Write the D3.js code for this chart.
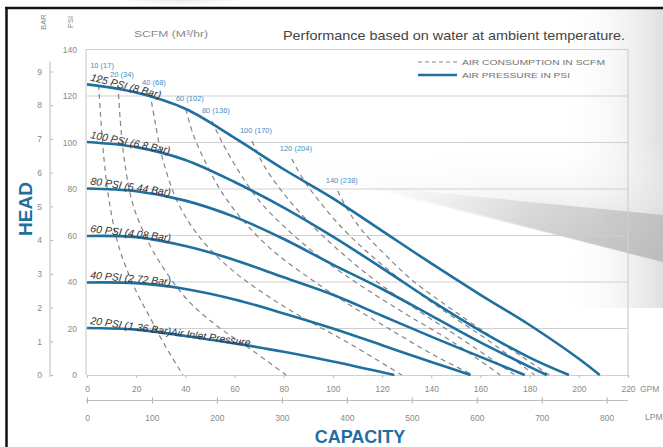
<!DOCTYPE html>
<html><head><meta charset="utf-8">
<script src="https://cdn.jsdelivr.net/npm/d3@7"></script>
<style>
body{margin:0;background:#fff;}
svg{display:block;font-family:"Liberation Sans",Arial,sans-serif;}
</style>
</head><body>
<svg id="c" width="663" height="447"></svg>
<script>
// ---------- DATA ----------
const gpmTicks = [0,20,40,60,80,100,120,140,160,180,200,220];
const lpmTicks = [0,100,200,300,400,500,600,700,800];
const psiTicks = [0,20,40,60,80,100,120,140];
const barTicks = [0,1,2,3,4,5,6,7,8,9];

const pressureNames = [
  "20 PSI (1.36 Bar)Air Inlet Pressure",
  "40 PSI (2.72 Bar)",
  "60 PSI (4.08 Bar)",
  "80 PSI (5.44 Bar)",
  "100 PSI (6.8 Bar)",
  "125 PSI (8 Bar)"
];
const psi20  = [[0,20.2],[20,19.5],[40,16.8],[60,13.6],[80,10],[100,5.8],[125,0]];
const psi40  = [[0,39.8],[20,39.5],[40,37],[60,32.5],[80,26.5],[100,20],[120,12.8],[140,5.6],[156,0]];
const psi60  = [[0,59.8],[20,59.3],[40,55.5],[60,49.5],[80,42],[100,34.5],[120,25.5],[140,16.5],[160,7.8],[178,0]];
const psi80  = [[0,80.2],[20,79],[40,75],[60,68],[80,58.5],[100,47.5],[120,37],[140,25.5],[160,14],[180,3.5],[187,0]];
const psi100 = [[0,100.2],[20,98],[40,92.5],[60,83],[80,72],[100,59.5],[120,46],[140,32],[160,19],[180,7.5],[196,0]];
const psi125 = [[0,125],[20,121.5],[40,114.5],[60,102],[80,88.5],[100,76],[120,62],[140,48],[160,34.5],[180,21.5],[200,7],[208.5,0]];

const scfmNames = ["10 (17)","20 (34)","40 (68)","60 (102)","80 (136)","100 (170)","120 (204)","140 (238)"];
const scfm10  = [[4.5,128.6],[5.5,112],[7,92],[9,75],[13,55],[20,36],[25,26],[31,14],[39,0]];
const scfm20  = [[12.6,124.7],[13.5,110],[15,94],[18.5,74],[25,57],[33,43],[42,31],[53,21],[66,11.5],[81,0]];
const scfm40  = [[25.6,121.3],[27.5,110],[30.5,94],[37,74],[46,59],[58,46],[72,35],[88,24.5],[106,14],[128,0]];
const scfm60  = [[40.2,114.4],[43,104],[47.5,93],[54,80],[63,67],[75,54],[90,42],[107,30],[125,18.5],[142,8],[157,0]];
const scfm80  = [[50.8,109.2],[55,100],[61.5,88],[70,75],[81,63],[95,50.5],[112,38],[130,26],[149,14],[168,0]];
const scfm100 = [[67.1,100.6],[72,90],[80,78],[90,66],[103,53],[118,40],[135,27.5],[153,15],[174,0]];
const scfm120 = [[83.3,92.9],[88,84],[95,74],[104,63],[116,51],[130,39],[146,27],[163,15],[182,0]];
const scfm140 = [[102,79.1],[106,71],[112,62],[121,52],[132,41],[146,30],[161,19],[176,8.5],[188,0]];

const pressureSeries = [psi20,psi40,psi60,psi80,psi100,psi125];
const scfmSeries = [scfm10,scfm20,scfm40,scfm60,scfm80,scfm100,scfm120,scfm140];

// ---------- SETUP ----------
const svg = d3.select("#c");
const W = 663, H = 447;
const x  = d3.scaleLinear().domain([0,220]).range([87,628]);
const xl = d3.scaleLinear().domain([0,220*3.78541]).range([87,628]);
const y  = d3.scaleLinear().domain([0,140]).range([375,49.5]);
const yb = d3.scaleLinear().domain([0,140/14.5038]).range([375,49.5]);

const blue = "#1f6fa0";
const axisGray = "#8a8a8a";
const FONT = "Liberation Sans, Arial, sans-serif";

const defs = svg.append("defs");
const g1 = defs.append("linearGradient").attr("id","sw1").attr("gradientUnits","userSpaceOnUse")
  .attr("x1",0).attr("y1",140).attr("x2",0).attr("y2",262);
g1.append("stop").attr("offset","0").attr("stop-color","#ffffff").attr("stop-opacity",0);
g1.append("stop").attr("offset","0.75").attr("stop-color","#d8d8d8").attr("stop-opacity",0.7);
g1.append("stop").attr("offset","1").attr("stop-color","#c6c6c6").attr("stop-opacity",0.9);
const g2 = defs.append("linearGradient").attr("id","sw2").attr("gradientUnits","userSpaceOnUse")
  .attr("x1",360).attr("y1",0).attr("x2",663).attr("y2",0);
g2.append("stop").attr("offset","0").attr("stop-color","#c8c8c8").attr("stop-opacity",0);
g2.append("stop").attr("offset","1").attr("stop-color","#b8b8b8").attr("stop-opacity",1);
const gm = defs.append("linearGradient").attr("id","swm").attr("gradientUnits","userSpaceOnUse")
  .attr("x1",260).attr("y1",0).attr("x2",520).attr("y2",0);
gm.append("stop").attr("offset","0").attr("stop-color","#fff").attr("stop-opacity",0);
gm.append("stop").attr("offset","1").attr("stop-color","#fff").attr("stop-opacity",1);
defs.append("mask").attr("id","fadeL").append("rect").attr("width",W).attr("height",H).attr("fill","url(#swm)");
const g3 = defs.append("linearGradient").attr("id","rt").attr("x1",0).attr("y1",0).attr("x2",1).attr("y2",0);
g3.append("stop").attr("offset","0").attr("stop-color","#ffffff").attr("stop-opacity",0);
g3.append("stop").attr("offset","1").attr("stop-color","#e0e0e0").attr("stop-opacity",1);
const g4 = defs.append("radialGradient").attr("id","blob");
g4.append("stop").attr("offset","0").attr("stop-color","#c9c9c9");
g4.append("stop").attr("offset","1").attr("stop-color","#ffffff").attr("stop-opacity",0);

// background
svg.append("rect").attr("width",W).attr("height",H).attr("fill","#fff");
svg.append("rect").attr("x",560).attr("y",8).attr("width",103).attr("height",300).attr("fill","url(#rt)");
svg.append("ellipse").attr("cx",180).attr("cy",-6).attr("rx",80).attr("ry",16).attr("fill","url(#blob)");
// swoosh
const sw = svg.append("g").attr("mask","url(#fadeL)");
sw.append("path").attr("d","M260,165 L663,120 L663,262 L360,186 Z").attr("fill","url(#sw1)");
sw.append("path").attr("d","M370,186 L663,215 L663,262 Z").attr("fill","url(#sw2)").attr("opacity",0.8);

// frame (black border)
svg.append("line").attr("x1",6.5).attr("x2",6.5).attr("y1",7).attr("y2",H).attr("stroke","#111").attr("stroke-width",2.5);
svg.append("line").attr("x1",5).attr("x2",W).attr("y1",8).attr("y2",8).attr("stroke","#111").attr("stroke-width",2.5);

// gridlines
svg.append("g").selectAll("line").data(psiTicks.filter(d=>d>0)).join("line")
  .attr("x1",x(0)-1).attr("x2",x(220)).attr("y1",d=>y(d)).attr("y2",d=>y(d))
  .attr("stroke","#cfcfcf").attr("stroke-width",1.2);
svg.append("line").attr("x1",x(0)-1).attr("x2",x(0)-1).attr("y1",y(140)).attr("y2",y(0)).attr("stroke","#cfcfcf").attr("stroke-width",1.2);
svg.append("line").attr("x1",x(220)).attr("x2",x(220)).attr("y1",y(140)).attr("y2",y(0)).attr("stroke","#cfcfcf").attr("stroke-width",1.2);

// bottom GPM axis
const ax = svg.append("g").attr("transform",`translate(0,${y(0)})`)
  .call(d3.axisBottom(x).tickValues(gpmTicks).tickSize(3).tickPadding(8));
ax.select(".domain").attr("stroke","#cfcfcf").attr("stroke-width",1.2);
ax.selectAll(".tick line").attr("stroke","#bbb");
ax.selectAll("text").attr("fill",axisGray).attr("font-size",8.5).attr("font-family",FONT);
svg.append("text").attr("x",x(220)+12).attr("y",392).attr("fill",axisGray).attr("font-size",8.5).text("GPM");

// LPM axis
const al = svg.append("g").attr("transform","translate(0,400.5)")
  .call(d3.axisBottom(xl).tickValues(lpmTicks).tickSize(3).tickPadding(11));
al.select(".domain").remove();
al.append("line").attr("x1",x(0)-1).attr("x2",x(220)).attr("stroke","#bdbdbd").attr("stroke-width",1.2);
al.selectAll(".tick line").attr("y1",-3).attr("stroke","#aaa");
al.selectAll("text").attr("fill",axisGray).attr("font-size",8.5).attr("font-family",FONT);
svg.append("text").attr("x",645).attr("y",420).attr("fill",axisGray).attr("font-size",8.5).text("LPM");

// PSI axis
const ap = svg.append("g").attr("transform",`translate(${x(0)-1},0)`)
  .call(d3.axisLeft(y).tickValues(psiTicks).tickSize(0).tickPadding(9));
ap.select(".domain").remove();
ap.selectAll("text").attr("fill",axisGray).attr("font-size",8.5).attr("font-family",FONT);

// BAR axis
const ab = svg.append("g").attr("transform","translate(50,0)")
  .call(d3.axisLeft(yb).tickValues(barTicks).tickSizeInner(-3).tickSizeOuter(0).tickPadding(8));
ab.select(".domain").remove();
ab.append("line").attr("y1",yb(0)+2).attr("y2",yb(9)-10).attr("stroke","#c4c4c4").attr("stroke-width",1.2);
ab.selectAll(".tick line").attr("stroke","#b5b5b5");
ab.selectAll("text").attr("fill",axisGray).attr("font-size",8.5).attr("font-family",FONT);

// axis headers
svg.append("text").attr("transform","translate(46,22) rotate(-90)").attr("text-anchor","middle")
  .attr("fill",axisGray).attr("font-size",7.5).text("BAR");
svg.append("text").attr("transform","translate(73,22) rotate(-90)").attr("text-anchor","middle")
  .attr("fill",axisGray).attr("font-size",7.5).text("PSI");
svg.append("text").attr("x",134).attr("y",37).attr("fill",axisGray).attr("font-size",9)
  .attr("textLength",74).attr("lengthAdjust","spacingAndGlyphs").text("SCFM (M³/hr)");
svg.append("text").attr("x",283).attr("y",40).attr("fill","#444").attr("font-size",13.5)
  .attr("textLength",342).attr("lengthAdjust","spacingAndGlyphs").text("Performance based on water at ambient temperature.");

// HEAD / CAPACITY
svg.append("text").attr("transform","translate(32,209) rotate(-90)").attr("text-anchor","middle")
  .attr("fill",blue).attr("font-size",19).attr("font-weight","bold").text("HEAD");
svg.append("text").attr("x",360).attr("y",443).attr("text-anchor","middle")
  .attr("fill",blue).attr("font-size",18).attr("font-weight","bold").text("CAPACITY");

// curves
const line = d3.line().x(d=>x(d[0])).y(d=>y(d[1])).curve(d3.curveCatmullRom.alpha(0.5));

svg.append("g").selectAll("path").data(scfmSeries).join("path")
  .attr("d",line).attr("fill","none").attr("stroke","#858585").attr("stroke-width",1.2)
  .attr("stroke-dasharray","5,4");

svg.append("g").selectAll("path").data(pressureSeries).join("path")
  .attr("d",line).attr("fill","none").attr("stroke",blue).attr("stroke-width",2.6);

// SCFM labels
svg.append("g").selectAll("text").data(scfmSeries).join("text")
  .attr("x",d=>x(d[0][0])+4).attr("y",d=>y(d[0][1])-8).attr("text-anchor","middle")
  .attr("fill","#4a8dbf").attr("font-size",7.5).text((d,i)=>scfmNames[i]);

// pressure labels, rotated along curve
const interp = (s,g)=>{ for(let i=1;i<s.length;i++){ if(g<=s[i][0]){ const a=s[i-1],b=s[i]; return a[1]+(b[1]-a[1])*(g-a[0])/(b[0]-a[0]); } } return s[s.length-1][1]; };
const pl = svg.append("g");
pressureSeries.forEach((s,i)=>{
  const t = pl.append("text").attr("font-size",10.5).attr("font-style","italic")
    .attr("fill","#333").text(pressureNames[i]);
  const len = t.node().getComputedTextLength();
  const x0 = x(0)+3, y0 = y(s[0][1]);
  const gEnd = x.invert(x0+len);
  const y1 = y(interp(s,gEnd));
  const ang = Math.atan2(y1-y0, len)*180/Math.PI + 1.5;
  t.attr("transform",`translate(${x0},${y0-4}) rotate(${ang})`);
});

// legend
const lg = svg.append("g");
lg.append("line").attr("x1",418).attr("x2",457).attr("y1",62).attr("y2",62)
  .attr("stroke","#858585").attr("stroke-width",1.2).attr("stroke-dasharray","4,3");
lg.append("line").attr("x1",418).attr("x2",457).attr("y1",75).attr("y2",75)
  .attr("stroke",blue).attr("stroke-width",2.6);
lg.append("text").attr("x",462).attr("y",65).attr("fill","#707070").attr("font-size",8)
  .attr("textLength",143).attr("lengthAdjust","spacingAndGlyphs").text("AIR CONSUMPTION IN SCFM");
lg.append("text").attr("x",462).attr("y",78).attr("fill","#707070").attr("font-size",8)
  .attr("textLength",108).attr("lengthAdjust","spacingAndGlyphs").text("AIR PRESSURE IN PSI");
</script>
</body></html>
